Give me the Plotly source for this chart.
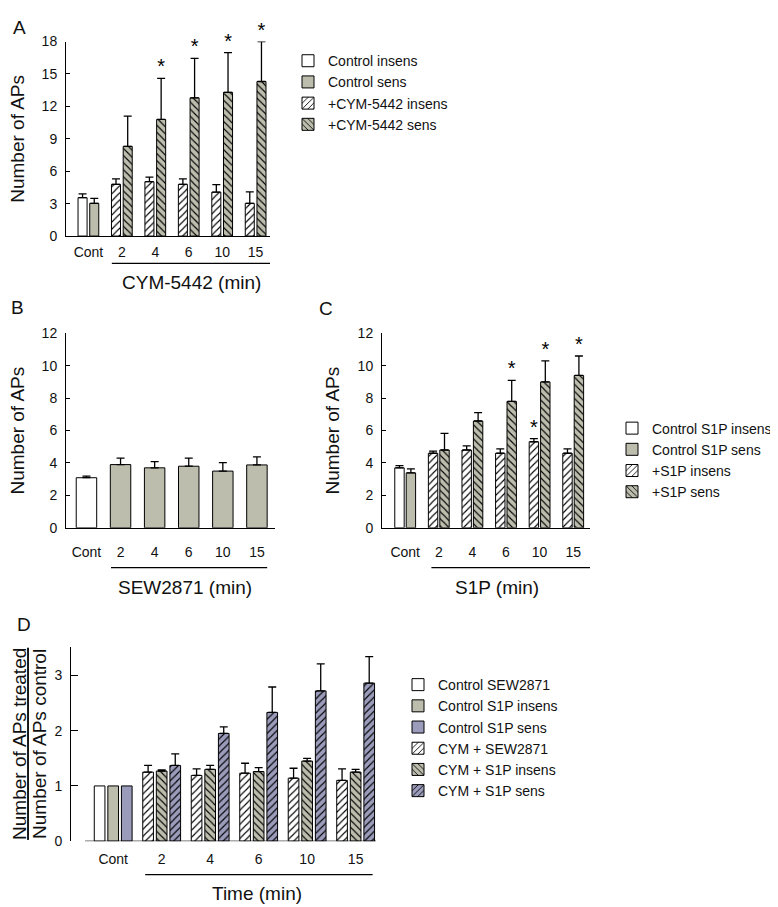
import plotly.graph_objects as go

FONT = "Liberation Sans, Arial, Helvetica, sans-serif"
GREY = "#bdbdae"
BLUE = "#9b9bbb"
W, H = 778, 907

categories = ["Cont", "2", "4", "6", "10", "15"]

# panel A - CYM-5442
a_ctrl_insens = [3.55]
a_ctrl_insens_err = [0.35]
a_ctrl_sens = [3.03]
a_ctrl_sens_err = [0.45]
a_cym_insens = [4.79, 5.03, 4.79, 4.06, 3.03]
a_cym_insens_err = [0.51, 0.42, 0.51, 0.70, 1.06]
a_cym_sens = [8.3, 10.79, 12.79, 13.3, 14.3]
a_cym_sens_err = [2.79, 3.81, 3.66, 3.67, 3.7]
a_cym_sens_sig = [False, True, True, True, True]

# panel B - SEW2871
b_ctrl = [3.09]
b_ctrl_err = [0.1]
b_sew = [3.9, 3.7, 3.8, 3.5, 3.88]
b_sew_err = [0.4, 0.38, 0.5, 0.52, 0.5]

# panel C - S1P
c_ctrl_insens = [3.7]
c_ctrl_insens_err = [0.14]
c_ctrl_sens = [3.39]
c_ctrl_sens_err = [0.25]
c_s1p_insens = [4.6, 4.8, 4.6, 5.31, 4.6]
c_s1p_insens_err = [0.13, 0.25, 0.27, 0.19, 0.27]
c_s1p_insens_sig = [False, False, False, True, False]
c_s1p_sens = [4.8, 6.59, 7.8, 9.0, 9.4]
c_s1p_sens_err = [1.02, 0.52, 1.29, 1.3, 1.2]
c_s1p_sens_sig = [False, False, True, True, True]

# panel D - ratio treated / control
d_ctrl = [1.0]
d_cym_sew = [1.25, 1.19, 1.23, 1.14, 1.10]
d_cym_sew_err = [0.12, 0.12, 0.18, 0.18, 0.21]
d_cym_insens = [1.27, 1.30, 1.26, 1.45, 1.25]
d_cym_insens_err = [0.02, 0.07, 0.07, 0.05, 0.05]
d_cym_sens = [1.37, 1.95, 2.33, 2.72, 2.86]
d_cym_sens_err = [0.21, 0.12, 0.46, 0.49, 0.48]


def px_x(p):
    return p / W


def px_y(p):
    return 1 - p / H


def bar(idx, off, y, err, name, fill, shape, ax, width, legend="legend", showlegend=True):
    pattern = dict(shape=shape, fillmode="replace", bgcolor=fill, fgcolor="black", size=5, solidity=0.22)
    kw = {}
    if err is not None:
        kw["error_y"] = dict(type="data", array=err, arrayminus=[0] * len(err), symmetric=False,
                             color="black", thickness=1.3, width=4)
    return go.Bar(
        x=[i + off for i in idx], y=y, width=width, name=name,
        marker=dict(color=fill, line=dict(color="black", width=1), pattern=pattern),
        xaxis="x" + ax, yaxis="y" + ax, legend=legend, showlegend=showlegend, **kw
    )


def stars(idx, off, y, err, sig, ax):
    return go.Scatter(
        x=[i + off for i in idx], y=[v + e for v, e in zip(y, err)],
        text=["*" if s else "" for s in sig], mode="text", textposition="top center",
        textfont=dict(size=20, family=FONT, color="black"), cliponaxis=False,
        showlegend=False, hoverinfo="skip", xaxis="x" + ax, yaxis="y" + ax
    )


ctrl = [0]
trt = [1, 2, 3, 4, 5]
traces = []

# A
traces += [
    bar(ctrl, -0.175, a_ctrl_insens, a_ctrl_insens_err, "Control insens", "white", "", "", 0.27),
    bar(ctrl, 0.175, a_ctrl_sens, a_ctrl_sens_err, "Control sens", GREY, "", "", 0.27),
    bar(trt, -0.175, a_cym_insens, a_cym_insens_err, "+CYM-5442 insens", "white", "/", "", 0.27),
    bar(trt, 0.175, a_cym_sens, a_cym_sens_err, "+CYM-5442 sens", GREY, "\\", "", 0.27),
    stars(trt, 0.175, a_cym_sens, a_cym_sens_err, a_cym_sens_sig, ""),
]
# B
traces += [
    bar(ctrl, 0, b_ctrl, b_ctrl_err, "Control", "white", "", "2", 0.6, showlegend=False),
    bar(trt, 0, b_sew, b_sew_err, "SEW2871", GREY, "", "2", 0.6, showlegend=False),
]
# C
traces += [
    bar(ctrl, -0.17, c_ctrl_insens, c_ctrl_insens_err, "Control S1P insens", "white", "", "3", 0.28, "legend2"),
    bar(ctrl, 0.17, c_ctrl_sens, c_ctrl_sens_err, "Control S1P sens", GREY, "", "3", 0.28, "legend2"),
    bar(trt, -0.17, c_s1p_insens, c_s1p_insens_err, "+S1P insens", "white", "/", "3", 0.28, "legend2"),
    bar(trt, 0.17, c_s1p_sens, c_s1p_sens_err, "+S1P sens", GREY, "\\", "3", 0.28, "legend2"),
    stars(trt, -0.17, c_s1p_insens, c_s1p_insens_err, c_s1p_insens_sig, "3"),
    stars(trt, 0.17, c_s1p_sens, c_s1p_sens_err, c_s1p_sens_sig, "3"),
]
# D
traces += [
    bar(ctrl, -0.28, d_ctrl, None, "Control SEW2871", "white", "", "4", 0.22, "legend3"),
    bar(ctrl, 0, d_ctrl, None, "Control S1P insens", GREY, "", "4", 0.22, "legend3"),
    bar(ctrl, 0.28, d_ctrl, None, "Control S1P sens", BLUE, "", "4", 0.22, "legend3"),
    bar(trt, -0.28, d_cym_sew, d_cym_sew_err, "CYM + SEW2871", "white", "/", "4", 0.22, "legend3"),
    bar(trt, 0, d_cym_insens, d_cym_insens_err, "CYM + S1P insens", GREY, "\\", "4", 0.22, "legend3"),
    bar(trt, 0.28, d_cym_sens, d_cym_sens_err, "CYM + S1P sens", BLUE, "/", "4", 0.22, "legend3"),
]

fig = go.Figure(data=traces)

tickfont = dict(size=14, family=FONT, color="#111")


def xax(x0, x1, y_anchor, rng, standoff, line=True):
    return dict(domain=[px_x(x0), px_x(x1)], range=rng, anchor=y_anchor,
                tickmode="array", tickvals=list(range(6)), ticktext=categories,
                ticks="", showline=line, linecolor="black", linewidth=1,
                showgrid=False, zeroline=False, tickfont=tickfont, ticklabelstandoff=standoff)


def yax(y_top, y_bot, x_anchor, rng, dtick, ticklen=4):
    return dict(domain=[px_y(y_bot), px_y(y_top)], range=rng, anchor=x_anchor, dtick=dtick,
                ticks="inside", ticklen=ticklen, tickwidth=1, tickcolor="black",
                showline=True, linecolor="black", linewidth=1,
                showgrid=False, zeroline=False, tickfont=tickfont, ticklabelstandoff=5)


legend_common = dict(xanchor="left", yanchor="middle", bgcolor="rgba(0,0,0,0)", tracegroupgap=0,
                     font=dict(size=14, family=FONT, color="#111"), traceorder="normal")

fig.update_layout(
    width=W, height=H, margin=dict(l=0, r=0, t=0, b=0),
    paper_bgcolor="white", plot_bgcolor="white",
    font=dict(family=FONT, color="#111"),
    barmode="overlay", showlegend=True,
    xaxis=xax(58, 262, "y", [-0.67, 5.43], 3),
    yaxis=yax(26, 224, "x", [0, 18], 3),
    xaxis2=xax(58, 267, "y2", [-0.6, 5.53], 11),
    yaxis2=yax(323, 521, "x2", [0, 12], 2),
    xaxis3=xax(374, 582, "y3", [-0.69, 5.5], 11),
    yaxis3=yax(323, 521, "x3", [0, 12], 2),
    xaxis4=xax(63, 368, "y4", [-0.87, 5.42], 8, line=False),
    yaxis4=yax(642, 840, "x4", [0, 3.52], 1, ticklen=7),
    legend=dict(x=px_x(280), y=px_y(78), **legend_common),
    legend2=dict(x=px_x(604), y=px_y(452), **legend_common),
    legend3=dict(x=px_x(390), y=px_y(735), **legend_common),
)

# x-axis line of panel D starts right of the y axis
fig.add_shape(type="line", xref="x4", yref="y4", x0=-0.58, x1=5.42, y0=0, y1=0,
              line=dict(color="black", width=1))

# brackets under the treatment times
brackets = [("x", "y domain", 0.70, 5.43, -0.141),
            ("x2", "y2 domain", 0.72, 5.3, -0.205),
            ("x3", "y3 domain", 0.78, 5.5, -0.205),
            ("x4", "y4 domain", 0.66, 5.35, -0.172)]
for xr, yr, x0, x1, yy in brackets:
    fig.add_shape(type="line", xref=xr, yref=yr, x0=x0, x1=x1, y0=yy, y1=yy,
                  line=dict(color="black", width=1.2))

titlefont = dict(size=19, family=FONT, color="#111")
x_titles = [("x", "y domain", 3.07, -0.237, "CYM-5442 (min)"),
            ("x2", "y2 domain", 2.9, -0.305, "SEW2871 (min)"),
            ("x3", "y3 domain", 2.73, -0.305, "S1P (min)"),
            ("x4", "y4 domain", 2.97, -0.268, "Time (min)")]
for xr, yr, xx, yy, txt in x_titles:
    fig.add_annotation(xref=xr, yref=yr, x=xx, y=yy, text=txt, showarrow=False,
                       xanchor="center", yanchor="middle", font=titlefont)

y_titles = [(10, 125, "Number of APs"),
            (10, 422, "Number of APs"),
            (325, 422, "Number of APs"),
            (12, 741, "<u>Number of APs treated</u>"),
            (32, 741, "Number of APs control")]
for xx, yy, txt in y_titles:
    fig.add_annotation(xref="paper", yref="paper", x=px_x(xx), y=px_y(yy), text=txt,
                       textangle=-90, showarrow=False, xanchor="center", yanchor="middle",
                       font=titlefont)

panel_labels = [(11, 12, "A"), (9, 297, "B"), (318, 298, "C"), (16, 619, "D")]
for xx, yy, txt in panel_labels:
    fig.add_annotation(xref="paper", yref="paper", x=px_x(xx), y=px_y(yy), text=txt,
                       showarrow=False, xanchor="center", yanchor="middle", font=titlefont)

fig.write_html("out.html")
